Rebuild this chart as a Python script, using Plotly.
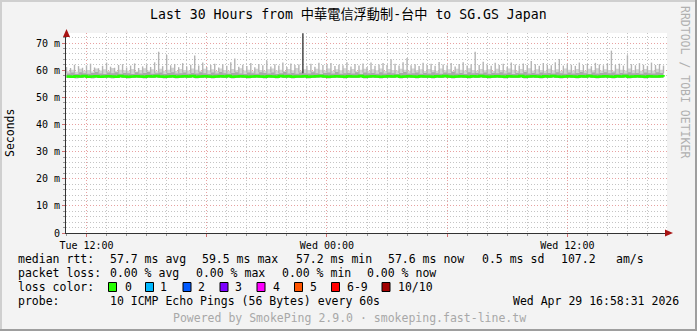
import plotly.graph_objects as go
import pandas as pd

# ---------------- data ----------------
start_time = "2026-04-28 11:00"
step = "12min"

median_rtt = [
57.7,57.6,57.8,57.7,57.9,57.6,57.7,57.8,57.6,57.7,57.8,57.7,57.6,57.9,57.7,
57.6,57.7,57.8,57.7,57.6,57.8,57.7,57.9,57.7,57.6,57.7,57.8,57.6,57.7,57.8,
57.7,57.9,57.6,57.7,57.8,57.7,57.6,57.7,57.8,57.7,57.9,57.6,57.7,57.8,57.7,
57.6,57.7,57.8,57.7,57.6,57.8,57.7,57.6,57.9,57.7,57.8,57.6,57.7,57.7,57.8,
57.6,57.7,57.8,57.9,57.7,57.6,57.7,57.8,57.7,57.6,57.8,57.7,57.7,57.9,57.6,
57.7,57.8,57.7,57.6,57.7,57.8,57.7,57.9,57.6,57.7,57.8,57.7,57.6,57.8,57.7,
57.7,57.6,57.8,57.7,57.9,57.7,57.6,57.7,57.8,57.7,57.6,57.8,57.7,57.9,57.7,
57.6,57.7,57.8,57.7,57.6,57.8,57.7,57.7,57.9,57.6,57.7,57.8,57.7,57.6,57.8,
57.7,57.9,57.7,57.6,57.7,57.8,57.7,57.6,57.8,57.7,57.9,57.7,57.6,57.7,57.8,
57.7,57.6,57.8,57.7,57.9,57.6,57.7,57.8,57.7,57.6,57.8,57.7,57.7,57.8,57.6]

smoke_low = [
57.1,57.2,57.0,57.1,57.3,57.1,57.0,57.2,57.1,57.1,57.2,57.0,57.1,57.3,57.1,
57.0,57.1,57.2,57.1,57.0,57.2,57.1,57.3,57.1,57.0,57.1,57.2,57.0,57.1,57.2,
57.1,57.3,57.0,57.1,57.2,57.1,57.0,57.1,57.2,57.1,57.3,57.0,57.1,57.2,57.1,
57.0,57.1,57.2,57.1,57.0,57.2,57.1,57.0,57.3,57.1,57.2,57.0,57.1,57.1,57.2,
57.0,57.1,57.2,57.3,57.1,57.0,57.1,57.2,57.1,57.0,57.2,57.1,57.1,57.3,57.0,
57.1,57.2,57.1,57.0,57.1,57.2,57.1,57.3,57.0,57.1,57.2,57.1,57.0,57.2,57.1,
57.1,57.0,57.2,57.1,57.3,57.1,57.0,57.1,57.2,57.1,57.0,57.2,57.1,57.3,57.1,
57.0,57.1,57.2,57.1,57.0,57.2,57.1,57.1,57.3,57.0,57.1,57.2,57.1,57.0,57.2,
57.1,57.3,57.1,57.0,57.1,57.2,57.1,57.0,57.2,57.1,57.3,57.1,57.0,57.1,57.2,
57.1,57.0,57.2,57.1,57.3,57.0,57.1,57.2,57.1,57.0,57.2,57.1,57.1,57.2,57.0]

smoke_mid = [
58.8,59.1,58.6,59.2,58.9,58.7,59.0,59.3,58.8,58.6,59.1,58.9,59.2,58.7,59.0,
58.9,58.6,59.2,58.8,59.0,59.3,58.7,58.9,59.1,58.6,59.0,59.2,58.8,58.9,59.1,
58.7,59.0,58.8,59.2,58.9,58.6,59.1,58.8,59.3,58.9,58.7,59.0,59.2,58.8,58.6,
59.1,58.9,58.7,59.2,59.0,58.8,59.1,58.6,58.9,59.3,58.8,59.0,58.7,59.1,58.9,
58.8,59.2,58.9,58.6,59.0,59.1,58.8,59.3,58.7,58.9,59.0,58.8,59.2,58.6,59.1,
58.9,59.0,58.7,59.2,58.8,59.1,58.9,58.6,59.0,59.3,58.8,58.9,59.1,58.7,59.0,
58.8,59.2,58.9,58.7,59.1,58.9,59.3,58.8,59.0,58.6,59.2,58.9,59.0,58.8,59.1,
58.7,59.0,58.9,59.2,58.8,59.1,58.6,59.0,58.9,59.3,58.8,59.0,58.7,59.1,58.9,
59.0,58.8,59.2,58.9,58.7,59.1,58.8,59.0,59.3,58.9,58.6,59.1,58.8,59.0,59.2,
58.9,59.1,58.7,59.0,58.8,59.2,58.9,59.0,58.7,59.1,58.9,58.8,59.2,59.0,58.9]

smoke_upper = [
59.6,60.2,59.4,60.5,59.8,60.1,59.5,60.6,59.9,60.3,59.7,60.8,59.6,60.2,60.0,
59.8,60.4,59.5,60.1,60.7,59.9,60.3,59.6,60.5,59.8,60.2,60.9,59.7,60.4,60.1,
59.9,60.6,60.2,59.8,60.5,60.0,60.3,59.7,60.6,60.1,59.8,60.4,60.0,60.7,59.9,
60.2,59.6,60.5,60.1,59.8,60.3,60.6,59.9,60.2,59.7,60.4,60.0,60.8,59.8,60.3,
60.1,59.7,60.5,60.2,59.9,60.6,59.8,60.3,60.0,60.7,59.9,60.4,59.6,60.2,60.5,
59.8,60.3,60.0,60.6,59.7,60.4,60.1,59.9,60.5,60.2,59.8,60.6,60.0,60.3,59.7,
60.4,60.1,59.8,60.6,60.0,60.3,59.7,60.5,60.2,59.9,60.7,60.1,59.8,60.4,60.0,
60.3,59.7,60.5,60.1,59.9,60.6,60.2,59.8,60.4,60.0,60.7,59.9,60.3,60.1,59.8,
60.5,60.0,60.3,59.7,60.6,60.2,59.9,60.4,60.1,59.8,60.5,60.0,60.7,59.9,60.3,
60.1,59.8,60.5,60.2,59.9,60.6,60.0,60.3,59.8,60.4,60.1,59.9,60.5,60.2,60.0]

smoke_max = [
61.2,60.8,62.0,61.5,60.9,61.8,62.4,61.0,60.7,61.6,62.8,61.3,60.9,61.9,62.2,
61.0,61.7,62.5,60.8,61.4,62.1,61.2,62.9,66.8,61.5,65.6,61.8,62.3,61.1,62.6,
61.4,62.0,65.4,61.7,62.8,61.2,61.9,62.4,61.0,62.2,61.6,62.9,64.3,61.3,62.0,
61.5,62.6,61.1,62.3,61.8,63.6,61.4,62.2,61.7,62.8,61.2,62.5,61.9,62.1,73.6,
61.6,62.4,61.3,62.7,61.9,62.2,62.6,61.5,62.0,61.8,62.9,61.4,62.3,61.7,62.5,
61.2,62.8,61.6,62.1,62.6,61.9,64.0,62.4,61.7,62.9,64.5,61.8,62.2,61.5,62.7,
61.9,62.4,61.6,63.0,62.1,61.8,62.6,61.4,62.3,62.9,61.7,62.2,66.8,61.9,63.1,
62.0,61.6,62.7,61.9,62.4,61.3,62.8,62.1,61.7,62.5,61.9,63.4,62.2,61.6,62.6,
62.0,61.8,62.9,64.1,61.7,62.4,62.0,61.6,62.8,61.9,62.3,61.5,62.7,62.1,61.8,
62.5,67.2,61.9,62.4,61.7,65.5,62.2,61.8,62.6,62.0,61.6,62.8,61.9,62.3,61.7]

y_label_alias = {"10": "10 m", "20": "20 m", "30": "30 m", "40": "40 m",
                 "50": "50 m", "60": "60 m", "70": "70 m"}
x_label_alias = {"Tue 18:00": " ", "Wed 06:00": " "}
x_tick0 = "2026-04-28 12:00"
x_range = ["2026-04-28 10:58:31", "2026-04-29 16:58:31"]

title_text = "Last 30 Hours from 中華電信浮動制-台中 to SG.GS Japan"
rtt_stats = ["57.7 ms avg", "59.5 ms max", "57.2 ms min", "57.6 ms now", "0.5 ms sd", "107.2", "am/s"]
loss_stats = ["0.00 % avg", "0.00 % max", "0.00 % min", "0.00 % now"]
loss_labels = ["0", "1", "2", "3", "4", "5", "6-9", "10/10"]
loss_colors = ["#26ff00", "#00b8ff", "#0059ff", "#7e00ff", "#ff00ff", "#ff5500", "#ff0000", "#a10000"]
probe_text = "10 ICMP Echo Pings (56 Bytes) every 60s"
date_text = "Wed Apr 29 16:58:31 2026"
footer_text = "Powered by SmokePing 2.9.0 · smokeping.fast-line.tw"

# ---------------- geometry ----------------
W, H = 697, 331
PL, PR, PT, PB = 66, 667, 33, 233


def px(x):
    return (x - PL) / (PR - PL)


def py(y):
    return (PB - y) / (PB - PT)


times = pd.date_range(start_time, periods=len(median_rtt), freq=step)
MONO = "DejaVu Sans Mono"

fig = go.Figure()

# light smoke band
fig.add_trace(go.Scatter(x=times, y=smoke_low, mode="lines", line=dict(width=0, shape="hv"),
                         hoverinfo="skip", showlegend=False))
fig.add_trace(go.Scatter(x=times, y=smoke_upper, mode="lines", line=dict(width=0, shape="hv"),
                         fill="tonexty", fillcolor="#d4d4d4", hoverinfo="skip", showlegend=False))
# darker inner smoke band
fig.add_trace(go.Scatter(x=times, y=smoke_low, mode="lines", line=dict(width=0, shape="hv"),
                         hoverinfo="skip", showlegend=False))
fig.add_trace(go.Scatter(x=times, y=smoke_mid, mode="lines", line=dict(width=0, shape="hv"),
                         fill="tonexty", fillcolor="#a9a9a9", hoverinfo="skip", showlegend=False))

# smoke spikes
sx, sy, bx, by = [], [], [], []
for t, m, v in zip(times, smoke_mid, smoke_max):
    if v > 70:
        bx += [t, t, None]
        by += [m, v, None]
    else:
        sx += [t, t, None]
        sy += [m, v, None]
fig.add_trace(go.Scatter(x=sx, y=sy, mode="lines", line=dict(width=1.4, color="#b4b4b4"),
                         connectgaps=False, hoverinfo="skip", showlegend=False))
fig.add_trace(go.Scatter(x=bx, y=by, mode="lines", line=dict(width=1.4, color="#3a3a3a"),
                         connectgaps=False, hoverinfo="skip", showlegend=False))

# median line
fig.add_trace(go.Scatter(x=times, y=median_rtt, mode="lines",
                         line=dict(width=2.5, color="#26ff00", shape="hv"),
                         hoverinfo="skip", showlegend=False))

grid_minor = "#c4c4c4"
grid_major = "rgba(220,110,110,0.65)"
DOTS = "1px,2px"

fig.update_layout(
    width=W, height=H,
    margin=dict(l=PL, r=W - PR, t=PT, b=H - PB),
    paper_bgcolor="#f3f3f3", plot_bgcolor="#ffffff",
    showlegend=False,
    xaxis=dict(
        range=x_range, type="date",
        tickmode="linear", tick0=x_tick0, dtick=6 * 3600000,
        tickformat="%a %H:%M", labelalias=x_label_alias,
        showgrid=True, gridcolor=grid_major, griddash=DOTS, gridwidth=1,
        ticks="outside", ticklen=3, tickcolor="#d07070",
        minor=dict(dtick=3600000, showgrid=True,
                   gridcolor=grid_minor, griddash=DOTS, gridwidth=1, ticks="outside",
                   ticklen=2, tickcolor="#999999"),
        showline=True, linecolor="#333333", linewidth=1, zeroline=False,
        tickfont=dict(family=MONO, size=10, color="#000000"),
    ),
    yaxis=dict(
        range=[0, 73.7],
        tickmode="linear", tick0=0, dtick=10, labelalias=y_label_alias,
        showgrid=True, gridcolor=grid_major, griddash=DOTS, gridwidth=1,
        ticks="outside", ticklen=3, tickcolor="#d07070",
        minor=dict(dtick=2, showgrid=True, gridcolor=grid_minor, gridwidth=1,
                   griddash=DOTS, ticks="outside", ticklen=2, tickcolor="#999999"),
        showline=True, linecolor="#333333", linewidth=1, zeroline=False,
        tickfont=dict(family=MONO, size=10, color="#000000"),
    ),
)

ann = []


def text(x, y, s, size=11.5, color="#000000", xa="left", angle=0, family=MONO):
    ann.append(dict(x=px(x), y=py(y), xref="paper", yref="paper", text=s, showarrow=False,
                    xanchor=xa, yanchor="middle", textangle=angle,
                    font=dict(family=family, size=size, color=color)))


text(348.5, 14, title_text, size=13.2, xa="center",
     family="DejaVu Sans Mono, Noto Sans CJK TC")
text(10, 133, "Seconds", size=11.5, xa="center", angle=-90)
text(685.5, 81.5, "RRDTOOL / TOBI OETIKER", size=11.5, color="#b0b0b0", xa="center", angle=90)

# legend rows
text(16, 259, "median rtt:")
for xpos, s in zip([107.7, 200, 293.5, 386, 480, 558.5, 614], rtt_stats):
    text(xpos, 259, s)
text(16, 273, "packet loss:")
for xpos, s in zip([107.7, 193.5, 279.5, 365], loss_stats):
    text(xpos, 273, s)
text(16, 287, "loss color:")
box_x = [108.5, 145.5, 183, 220, 257, 294.5, 331.5, 382]
lab_x = [123, 158, 196, 233, 271, 308, 345, 396]
shapes = []
for bxp, lxp, lab, col in zip(box_x, lab_x, loss_labels, loss_colors):
    shapes.append(dict(type="rect", xref="paper", yref="paper",
                       x0=px(bxp), x1=px(bxp + 8), y0=py(291.5), y1=py(282.5),
                       fillcolor=col, line=dict(color="#000000", width=1)))
    text(lxp, 287, lab)
text(16, 301, "probe:")
text(107.7, 301, probe_text)
text(681, 301, date_text, xa="right")
text(349, 318, footer_text, color="#a8a8a8", xa="center")

# axis arrows
shapes.append(dict(type="path", xref="paper", yref="paper",
                   path=f"M {px(66.5)},{py(29)} L {px(63)},{py(37)} L {px(70)},{py(37)} Z",
                   fillcolor="#a81414", line=dict(width=0)))
shapes.append(dict(type="path", xref="paper", yref="paper",
                   path=f"M {px(673)},{py(233)} L {px(665)},{py(229.5)} L {px(665)},{py(236.5)} Z",
                   fillcolor="#a81414", line=dict(width=0)))
# outer 3D frame
shapes.append(dict(type="line", xref="paper", yref="paper", x0=px(0), x1=px(W), y0=py(1), y1=py(1),
                   line=dict(color="#cfcfcf", width=2)))
shapes.append(dict(type="line", xref="paper", yref="paper", x0=px(1), x1=px(1), y0=py(0), y1=py(H),
                   line=dict(color="#cfcfcf", width=2)))
shapes.append(dict(type="line", xref="paper", yref="paper", x0=px(0), x1=px(W), y0=py(H - 1), y1=py(H - 1),
                   line=dict(color="#9e9e9e", width=2)))
shapes.append(dict(type="line", xref="paper", yref="paper", x0=px(W - 1), x1=px(W - 1), y0=py(0), y1=py(H),
                   line=dict(color="#9e9e9e", width=2)))

fig.update_layout(annotations=ann, shapes=shapes)
fig.write_html("out.html")
